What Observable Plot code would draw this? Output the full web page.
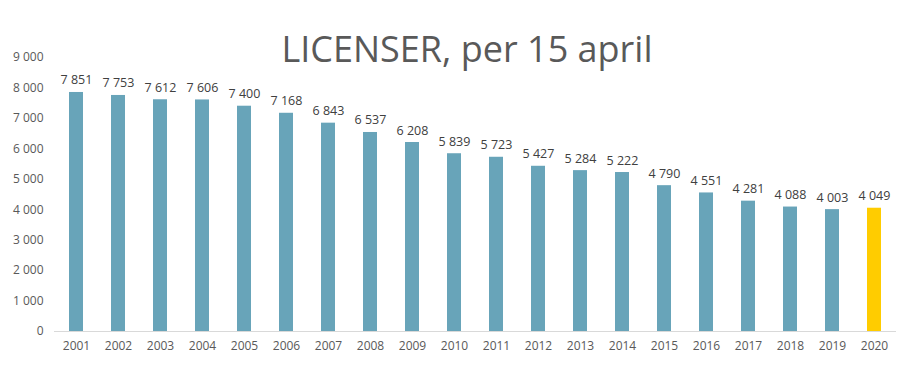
<!DOCTYPE html>
<html><head><meta charset="utf-8">
<script src="https://cdn.jsdelivr.net/npm/d3@7"></script>
<script src="https://cdn.jsdelivr.net/npm/@observablehq/plot@0.6"></script>
<style>
body{margin:0;background:#fff;}
#wrap{position:relative;width:910px;height:376px;}
#title{position:absolute;left:12px;width:910px;top:24px;line-height:49px;text-align:center;font-family:"Open Sans",sans-serif;font-size:36px;color:#595959;}
</style>
</head><body>
<div id="wrap"><div id="title">LICENSER, per 15 april</div><div id="chart"></div></div>
<script>
const years = ["2001","2002","2003","2004","2005","2006","2007","2008","2009","2010","2011","2012","2013","2014","2015","2016","2017","2018","2019","2020"];
const values = [7851,7753,7612,7606,7400,7168,6843,6537,6208,5839,5723,5427,5284,5222,4790,4551,4281,4088,4003,4049];
const highlightYear = "2020";
const yTicks = [0,1000,2000,3000,4000,5000,6000,7000,8000,9000];

const fmt = d3.formatLocale({thousands:"\u00a0", grouping:[3], decimal:","}).format(",");
const data = years.map((y,i)=>({year:y, value:values[i]}));

const chart = Plot.plot({
  width:910, height:376,
  marginTop:57, marginBottom:45, marginLeft:54, marginRight:14,
  style:{fontFamily:"'Open Sans',sans-serif", fontSize:"12px", color:"#595959", background:"transparent"},
  x:{domain:years, paddingInner:0.66, paddingOuter:0.33, label:null, tickSize:0, tickPadding:10},
  y:{domain:[0,9000], ticks:yTicks, tickFormat:fmt, label:null, tickSize:0, tickPadding:11},
  marks:[
    Plot.barY(data,{x:"year", y:"value", fill:d=>d.year===highlightYear?"#ffcc00":"#68a4b9"}),
    Plot.ruleY([0],{stroke:"#d9d9d9", strokeWidth:1}),
    Plot.text(data,{x:"year", y:"value", text:d=>fmt(d.value), dy:-8, lineAnchor:"bottom", fill:"#404040", fontSize:12.5})
  ]
});
document.getElementById("chart").appendChild(chart);
</script>
</body></html>
